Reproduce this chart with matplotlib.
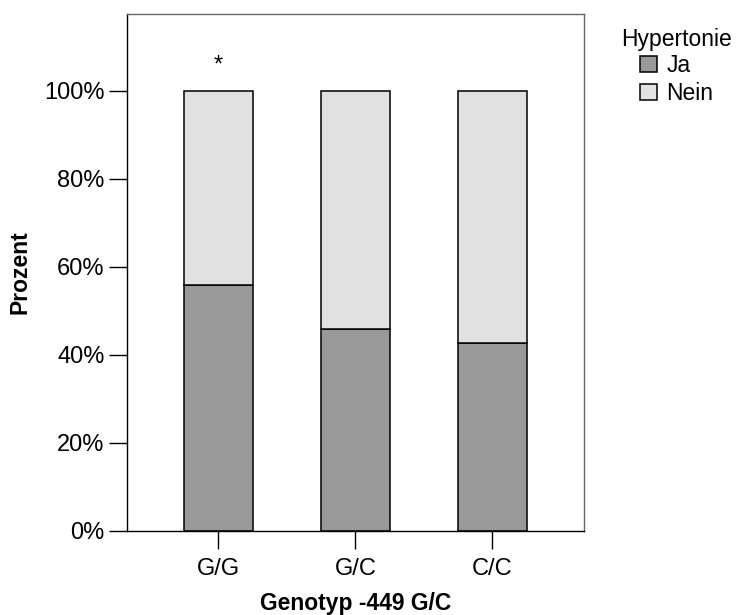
import numpy as np
import matplotlib.pyplot as plt

plt.rcParams['font.family'] = ['Liberation Sans', 'DejaVu Sans']

# data (percent)
genotypes = ['G/G', 'G/C', 'C/C']
ja = [55.8, 45.8, 42.7]
nein = [100 - v for v in ja]
series_names = ['Ja', 'Nein']
colors = ['#999999', '#e1e1e1']
yticks = [0, 20, 40, 60, 80, 100]

W, H = 736, 615
fig = plt.figure(figsize=(W / 100, H / 100), dpi=100)
ax = fig.add_axes([126.7 / W, 1 - 530.7 / H, (584 - 126.7) / W, (530.7 - 14) / H])

x = np.arange(len(genotypes))
ax.bar(x, ja, width=0.5, color=colors[0], edgecolor='black', linewidth=1.1, label=series_names[0])
ax.bar(x, nein, width=0.5, bottom=ja, color=colors[1], edgecolor='black', linewidth=1.1, label=series_names[1])

# significance marker
ax.text(x[0], 105.8, '*', ha='center', va='center', fontsize=17)

ax.set_xlim(-0.668, 2.668)
ax.set_ylim(0, 117.4)
ax.set_xticks(x)
ax.set_xticklabels(genotypes, fontsize=17)
ax.set_yticks(yticks)
ax.set_yticklabels(['{}%'.format(t) for t in yticks], fontsize=17)
ax.tick_params(axis='both', length=13, width=1.0, color='black')
ax.tick_params(axis='x', pad=7)
ax.tick_params(axis='y', pad=3)

for s in ['top', 'right']:
    ax.spines[s].set_color('#666666')
for s in ['left', 'bottom']:
    ax.spines[s].set_color('black')
for s in ax.spines.values():
    s.set_linewidth(1.0)

ax.set_xlabel('Genotyp -449 G/C', fontsize=16.5, fontweight='bold', labelpad=8)
ax.set_ylabel('Prozent', fontsize=16.5, fontweight='bold', labelpad=9)

# legend: title as separate text, entries indented under it
fig.text(621 / W, 1 - 28 / H, 'Hypertonie', fontsize=16.5, ha='left', va='top')
leg = fig.legend(loc='upper left', bbox_to_anchor=(640 / W, 1 - 54 / H),
                 frameon=False, fontsize=16.5,
                 handlelength=0.74, handleheight=0.74, handletextpad=0.4,
                 labelspacing=0.22, borderpad=0, borderaxespad=0)
for h in leg.legend_handles:
    h.set_edgecolor('black')
    h.set_linewidth(1.1)

fig.savefig('out.png', dpi=100)
